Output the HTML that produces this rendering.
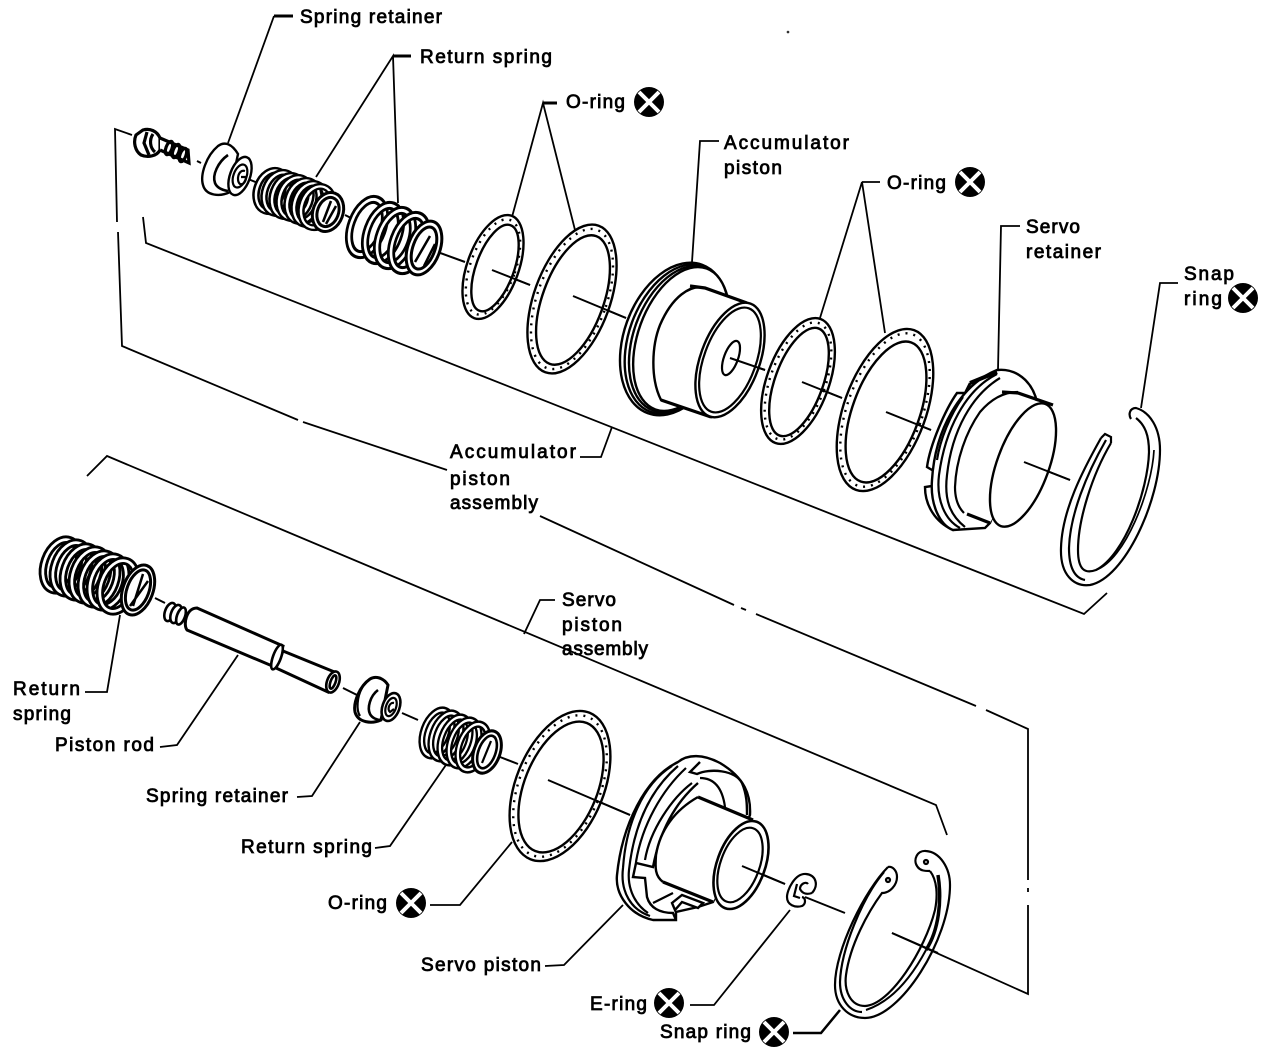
<!DOCTYPE html>
<html><head><meta charset="utf-8"><style>
html,body{margin:0;padding:0;background:#fff}
svg{display:block}
text{font-family:"Liberation Sans",sans-serif;font-size:19px;fill:#000;stroke:#000;stroke-width:.8px}
.l{fill:none;stroke:#000;stroke-width:1.8}
.a{fill:none;stroke:#000;stroke-width:2}
.s{fill:#fff;stroke:#000;stroke-width:2.4}
.n{fill:none;stroke:#000;stroke-width:2.2}
.d{fill:none;stroke:#000;stroke-width:2.4;stroke-dasharray:2 6}
.x{fill:none;stroke:#fff;stroke-width:4}
</style></head><body>
<svg width="1280" height="1050" viewBox="0 0 1280 1050" xmlns="http://www.w3.org/2000/svg">
<defs>
<g id="coil"><ellipse rx="16" ry="25" fill="none" stroke="#000" stroke-width="8"/><ellipse rx="16" ry="25" fill="none" stroke="#fff" stroke-width="2.6"/></g>
<g id="cross"><circle r="15" fill="#000"/><path class="x" d="M-10,-10L10,10M10,-10L-10,10"/></g>
</defs>

<!-- brackets -->
<g class="l">
<path d="M132,135L115,129L117,222M118,232L122,346L298,420M303,422L447,470M540,516L734,605M741,608L746,610M756,614L976,706M986,710L1028,729L1028,880M1028,888L1028,892M1028,905L1028,994L892,933"/>
<path d="M143,217L146,243L1084,614L1107,593"/>
<path d="M87,476L107,456L936,805L947,835"/>
<path d="M228,143L274,16"/><path d="M293,16L274,16" stroke-width="3"/>
<path d="M316,177L393,56L398,203"/><path d="M393,56L411,56" stroke-width="3"/>
<path d="M512,217L543,103L575,230"/><path d="M543,103L557,103" stroke-width="3"/>
<path d="M692,262L700,141L719,141"/>
<path d="M820,318L862,182L885,333M862,182L880,182"/>
<path d="M998,370L1001,226L1020,226"/>
<path d="M1141,408L1160,283L1178,283"/>
<path d="M580,457L601,457L612,427"/>
<path d="M524,634L540,600L555,600"/>
<path d="M85,692L107,692L120,615"/>
<path d="M160,747L177,745L238,655"/>
<path d="M297,797L312,796L360,722"/>
<path d="M375,848L390,846L448,762"/>
<path d="M430,905L460,905L512,842"/>
<path d="M545,966L564,965L623,905"/>
<path d="M690,1005L714,1005L790,910"/>
<path d="M793,1033L821,1033L840,1010" stroke-width="2.5"/>
<circle cx="788" cy="32" r=".4"/>
</g>

<!-- axis behind -->
<g class="a">
<path d="M197,161L201,163M248,179L258,183M345,215L355,220M432,250L465,262M492,270L530,285M573,296L626,318M730,358L765,370M802,382L842,398M886,412L931,430M1024,462L1070,480"/>
<path d="M155,598L165,603M343,688L357,695M402,713L418,720M500,757L518,764M548,780L630,815M742,866L785,884M805,897L845,913"/>
</g>

<!-- bolt -->
<g fill="none" stroke="#000" stroke-width="3.2">
<path d="M143,130C150,128 157,131 160,138L160,150C157,156 148,158 141,155C135,151 133,142 136,135Z" fill="#fff"/>
<path d="M147,132L144,143L149,155M153,134C149,140 150,148 155,152"/>
<path d="M160,138L188,150L189,163L160,150" fill="#fff"/>
<ellipse cx="169" cy="148" rx="3" ry="7" transform="rotate(20 169 148)"/>
<ellipse cx="176" cy="151" rx="3" ry="7" transform="rotate(20 176 151)"/>
<ellipse cx="183" cy="155" rx="3" ry="7" transform="rotate(20 183 155)"/>
</g>

<!-- upper spring retainer -->
<path class="s" d="M238,154C232,144 225,141 218,146C206,156 200,175 203,185C206,196 220,197 230,192Z"/>
<path class="n" d="M228,155C218,162 212,175 215,183C217,188 222,190 228,191" style="stroke-width:2.6"/>
<ellipse class="s" cx="240" cy="176" rx="10" ry="20" transform="rotate(20 240 176)"/>
<ellipse class="n" cx="240" cy="176" rx="6.5" ry="12" transform="rotate(20 240 176)"/>
<path class="n" d="M245,171C238,169 236,181 240,184C243,185 246,182 246,177L241,177"/>

<!-- upper spring 1 -->
<use href="#coil" transform="translate(272,191) rotate(20) scale(.95,.85)"/>
<use href="#coil" transform="translate(280,193) rotate(20) scale(.95,.85)"/>
<use href="#coil" transform="translate(288,196) rotate(20) scale(.95,.85)"/>
<use href="#coil" transform="translate(295,198) rotate(20) scale(.95,.85)"/>
<use href="#coil" transform="translate(303,201) rotate(20) scale(.95,.85)"/>
<use href="#coil" transform="translate(310,204) rotate(20) scale(.95,.85)"/>
<use href="#coil" transform="translate(317,207) rotate(20) scale(.95,.85)"/>
<ellipse class="s" cx="328" cy="212" rx="15" ry="20" transform="rotate(20 328 212)" style="stroke-width:3"/>
<ellipse class="n" cx="328" cy="212" rx="10.5" ry="15" transform="rotate(20 328 212)" style="stroke-width:3"/>
<path class="n" d="M331,201L323,222M336,206L326,224" style="stroke-width:2.5"/>

<!-- upper spring 2 -->
<use href="#coil" transform="translate(367,227) rotate(20) scale(1,1.15)"/>
<use href="#coil" transform="translate(383,233) rotate(20) scale(1,1.15)"/>
<use href="#coil" transform="translate(395,238) rotate(20) scale(1,1.15)"/>
<use href="#coil" transform="translate(409,243) rotate(20) scale(1,1.15)"/>
<ellipse class="s" cx="424" cy="248" rx="16" ry="28" transform="rotate(20 424 248)" style="stroke-width:3"/>
<ellipse class="n" cx="424" cy="248" rx="11" ry="22" transform="rotate(20 424 248)" style="stroke-width:3"/>
<path class="n" d="M430,236L415,262M435,244L424,266" style="stroke-width:2.5"/>

<!-- O-rings upper -->
<ellipse class="s" cx="493" cy="267" rx="25.7" ry="54.5" transform="rotate(20 493 267)"/>
<ellipse class="d" cx="493" cy="267" rx="22.5" ry="50" transform="rotate(20 493 267)"/>
<ellipse class="s" cx="495" cy="268" rx="19" ry="45.5" transform="rotate(20 495 268)"/>
<path class="a" d="M492,270L530,285"/>
<ellipse class="s" cx="572" cy="299" rx="38" ry="78" transform="rotate(20 572 299)"/>
<ellipse class="d" cx="572" cy="299" rx="34.5" ry="73.5" transform="rotate(20 572 299)"/>
<ellipse class="s" cx="573" cy="300" rx="30.5" ry="68" transform="rotate(20 573 300)"/>
<path class="a" d="M573,296L626,318"/>

<!-- accumulator piston -->
<g>
<ellipse class="s" cx="675" cy="339" rx="51" ry="79" transform="rotate(20 675 339)"/>
<ellipse class="s" cx="677" cy="339" rx="48" ry="77.5" transform="rotate(20 677 339)"/>
<ellipse class="s" cx="679" cy="339" rx="45.5" ry="76" transform="rotate(20 679 339)"/>
<ellipse class="s" cx="681" cy="339" rx="43" ry="75" transform="rotate(20 681 339)"/>
<path class="s" d="M747,303L705,288C690,284 672,297 660,325C652,345 650,378 661,400L711,417Z"/>
<path class="a" d="M690,286L705,288L747,303M661,400L711,417" style="stroke-width:3.2"/>
<ellipse class="s" cx="730" cy="360" rx="29.6" ry="60" transform="rotate(20 730 360)"/>
<ellipse class="n" cx="730" cy="360" rx="26" ry="55" transform="rotate(20 730 360)"/>
<ellipse class="n" cx="731" cy="358" rx="7" ry="18" transform="rotate(20 731 358)"/>
<path class="a" d="M730,358L765,370"/>
</g>

<!-- O-rings right -->
<ellipse class="s" cx="798" cy="381" rx="31" ry="66" transform="rotate(20 798 381)"/>
<ellipse class="d" cx="798" cy="381" rx="27.5" ry="61.5" transform="rotate(20 798 381)"/>
<ellipse class="s" cx="799" cy="382" rx="24" ry="57" transform="rotate(20 799 382)"/>
<path class="a" d="M802,382L842,398"/>
<ellipse class="s" cx="885" cy="410" rx="41" ry="85" transform="rotate(20 885 410)"/>
<ellipse class="d" cx="885" cy="410" rx="37.5" ry="80.5" transform="rotate(20 885 410)"/>
<ellipse class="s" cx="886" cy="412" rx="33.5" ry="74" transform="rotate(20 886 412)"/>
<path class="a" d="M886,412L931,430"/>

<!-- servo retainer -->
<g>
<path class="s" d="M970,383L965,393L957,393C945,410 930,445 927,467L932,470L960,440Z"/>
<path class="s" d="M932,486L925,487C925,505 935,522 953,530L965,520Z"/>
<path class="s" d="M997,370C1015,368 1032,380 1037,402L990,523L985,528L953,530C940,525 930,505 932,480C935,430 960,385 997,370Z"/>
<path class="n" d="M997,374C965,390 945,430 939,475C936,500 945,520 960,528"/>
<path class="n" d="M1000,378C972,395 952,430 947,475C944,500 950,515 965,527"/>
<path class="n" d="M970,383L997,372" style="stroke-width:4"/>
<path class="n" d="M963,397C950,415 940,440 937,460"/>
<path d="M1002,393L1053,405L990,523L968,515L962,512C955,505 954,495 955,482C959,440 978,403 1002,393Z" fill="#fff"/>
<path class="n" d="M1018,392C1005,392 992,398 980,412C966,432 956,460 955,487C955,498 958,507 964,513"/>
<path class="a" d="M1002,392L1018,393L1053,405M967,514L990,523" style="stroke-width:3.2"/>
<ellipse class="s" cx="1023" cy="465" rx="26" ry="65" transform="rotate(20 1023 465)"/>
<path class="a" d="M1024,462L1070,480"/>
</g>

<!-- upper snap ring -->
<g class="n">
<path d="M1101,438C1083,470 1062,510 1061,548C1060,575 1074,587 1090,585C1125,578 1160,500 1160,450C1160,428 1150,412 1136,408C1130,408 1128,414 1131,419"/>
<path d="M1111,443C1092,475 1078,520 1078,550C1078,570 1085,574 1096,570C1125,555 1148,490 1149,452C1149,435 1145,425 1136,418"/>
<path d="M1106,440C1086,475 1070,515 1069,548C1069,568 1075,578 1085,580"/>
<path d="M1101,438L1105,434L1111,437L1111,443"/>
<path d="M1096,570C1125,560 1152,490 1154,450" stroke-width="1.7"/>
</g>

<!-- lower spring big -->
<use href="#coil" transform="translate(61,565) rotate(20) scale(1.05,1.05)"/>
<use href="#coil" transform="translate(71,568) rotate(20) scale(1.05,1.05)"/>
<use href="#coil" transform="translate(81,572) rotate(20) scale(1.05,1.05)"/>
<use href="#coil" transform="translate(90,575) rotate(20) scale(1.05,1.05)"/>
<use href="#coil" transform="translate(99,579) rotate(20) scale(1.05,1.05)"/>
<use href="#coil" transform="translate(108,582) rotate(20) scale(1.05,1.05)"/>
<use href="#coil" transform="translate(118,586) rotate(20) scale(1.05,1.05)"/>
<ellipse class="s" cx="138" cy="590" rx="15" ry="26" transform="rotate(20 138 590)" style="stroke-width:3"/>
<ellipse class="n" cx="138" cy="590" rx="11" ry="21" transform="rotate(20 138 590)" style="stroke-width:3"/>
<path class="n" d="M143,574L133,606M148,581L130,606" style="stroke-width:2.5"/>

<!-- piston rod -->
<g fill="none" stroke="#000" stroke-width="2.6">
<ellipse cx="170" cy="612" rx="5" ry="9.5" transform="rotate(20 170 612)" fill="#fff"/>
<ellipse cx="176" cy="614" rx="5" ry="9.5" transform="rotate(20 176 614)" fill="#fff"/>
<ellipse cx="181" cy="616" rx="4" ry="9" transform="rotate(20 181 616)" fill="#fff"/>
<path d="M197,608L283,646L277,668L187,630C183,625 186,608 197,608Z" fill="#fff" stroke-width="3"/>
<path d="M283,651L337,673L328,692L276,668Z" fill="#fff" stroke-width="3"/>
<ellipse cx="277" cy="657" rx="4" ry="13" transform="rotate(20 277 657)" fill="#fff"/>
<ellipse cx="333" cy="682" rx="6" ry="11" transform="rotate(20 333 682)" fill="#fff"/>
<ellipse cx="333" cy="682" rx="2.5" ry="7" transform="rotate(20 333 682)"/>
</g>

<!-- lower retainer -->
<path class="s" d="M388,685C383,677 375,676 370,679C360,686 353,702 355,712C358,723 372,724 381,720Z" style="stroke-width:3"/>
<path class="n" d="M378,690C370,696 367,708 370,714C372,718 377,720 381,720" style="stroke-width:2.6"/>
<path class="n" d="M362,688C357,697 356,710 360,716"/>
<ellipse class="s" cx="391" cy="707" rx="8.5" ry="14.5" transform="rotate(20 391 707)" style="stroke-width:2.6"/>
<ellipse class="n" cx="391" cy="707" rx="5" ry="9.5" transform="rotate(20 391 707)"/>
<path class="n" d="M394,703C389,702 387,710 390,712L394,709"/>

<!-- lower spring small -->
<use href="#coil" transform="translate(437,733) rotate(20) scale(.85,.95)"/>
<use href="#coil" transform="translate(446,736) rotate(20) scale(.85,.95)"/>
<use href="#coil" transform="translate(455,740) rotate(20) scale(.85,.95)"/>
<use href="#coil" transform="translate(464,743) rotate(20) scale(.85,.95)"/>
<use href="#coil" transform="translate(473,747) rotate(20) scale(.85,.95)"/>
<ellipse class="s" cx="487" cy="752" rx="13" ry="22" transform="rotate(20 487 752)" style="stroke-width:3"/>
<ellipse class="n" cx="487" cy="752" rx="8.5" ry="17" transform="rotate(20 487 752)" style="stroke-width:2.6"/>
<path class="n" d="M491,741L482,763"/>

<!-- lower O-ring -->
<ellipse class="s" cx="560" cy="786" rx="44" ry="79" transform="rotate(22 560 786)"/>
<ellipse class="d" cx="560" cy="786" rx="40.5" ry="74.5" transform="rotate(22 560 786)"/>
<ellipse class="s" cx="561" cy="787" rx="36.5" ry="69" transform="rotate(22 561 787)"/>
<path class="a" d="M548,780L630,815"/>

<!-- servo piston -->
<g>
<path class="s" d="M750,815C751,795 745,778 720,763C703,754 688,754 678,762C645,778 622,825 617,875C615,895 630,915 653,920L676,920L676,912L698,907L713,902Z"/>
<path class="n" d="M672,766C642,785 626,825 623,868C620,893 632,910 650,916"/>
<path class="n" d="M678,766C650,790 634,825 629,870C627,890 636,905 648,913"/>
<path class="n" d="M686,768C662,790 642,825 636,862"/>
<path class="n" d="M692,783C672,798 650,830 645,860"/>
<path class="n" d="M700,762L690,772L697,774C710,768 735,770 742,783C747,795 747,805 747,815" style="stroke-width:2.4"/>
<path class="n" d="M700,778C712,778 722,785 725,807"/>
<path class="n" d="M698,783C675,803 660,830 653,867L636,863L633,877L645,878L647,897C650,908 660,913 673,913L676,920" style="stroke-width:2.4"/>
<path class="n" d="M653,903L673,893"/>
<path d="M698,797L753,820L713,902L663,882C655,876 655,868 656,855C660,830 675,810 698,797Z" fill="#fff"/>
<path class="n" d="M698,797C675,810 660,830 656,855C655,868 655,876 663,882" style="stroke-width:2.4"/>
<path class="a" d="M698,797L753,820M663,882L713,902" style="stroke-width:3.2"/>
<path class="s" d="M682,895L703,903L698,908L682,902L675,910L672,903Z"/>
<ellipse class="s" cx="741" cy="865" rx="24" ry="46" transform="rotate(20 741 865)" style="stroke-width:2.6"/>
<ellipse class="n" cx="740" cy="865" rx="19.5" ry="39" transform="rotate(20 740 865)"/>
<path class="a" d="M742,866L785,884"/>
</g>

<!-- E-ring -->
<g class="n" stroke-width="2.6">
<path d="M812,893C819,885 816,875 806,874C795,873 787,890 787,897C787,905 795,908 802,906C806,904 806,898 802,897"/>
<path d="M812,893C806,895 802,893 800,889C800,884 806,881 808,884"/>
<path d="M797,884L794,896L800,898"/>
</g>

<!-- lower snap ring -->
<g class="n">
<path d="M888,867C865,890 835,950 835,985C835,1005 848,1018 865,1018C900,1018 950,940 950,885C950,868 940,852 926,851C917,850 913,860 917,866C920,871 925,871 930,871"/>
<path d="M930,871C937,880 938,895 935,910C925,950 890,1005 865,1006C850,1006 844,990 846,975C850,945 868,912 882,893C890,893 897,885 897,877C897,870 892,866 888,867"/>
<path d="M884,872C862,898 841,950 840,982C840,1000 850,1012 862,1012"/>
<path d="M938,875C942,900 939,930 926,950" stroke-width="3.5"/>
<path d="M926,950C910,980 890,1002 866,1010" stroke-width="2"/>
<circle cx="888" cy="880" r="2"/><circle cx="926" cy="862" r="2"/>
</g>
<path class="a" d="M892,933L938,953"/>

<!-- crosses -->
<use href="#cross" x="649" y="102"/>
<use href="#cross" x="970" y="182"/>
<use href="#cross" x="1243" y="298"/>
<use href="#cross" x="411" y="903"/>
<use href="#cross" x="669" y="1003"/>
<use href="#cross" x="774" y="1032"/>

<!-- labels -->
<text x="300" y="23" textLength="142">Spring retainer</text>
<text x="420" y="63" textLength="132">Return spring</text>
<text x="566" y="108" textLength="59">O-ring</text>
<text x="724" y="149" textLength="125">Accumulator</text>
<text x="724" y="174" textLength="58">piston</text>
<text x="887" y="189" textLength="59">O-ring</text>
<text x="1026" y="233" textLength="54">Servo</text>
<text x="1026" y="258" textLength="75">retainer</text>
<text x="1184" y="280" textLength="50">Snap</text>
<text x="1184" y="305" textLength="38">ring</text>
<text x="450" y="458" textLength="126">Accumulator</text>
<text x="450" y="485" textLength="60">piston</text>
<text x="450" y="509" textLength="88">assembly</text>
<text x="562" y="606" textLength="54">Servo</text>
<text x="562" y="631" textLength="60">piston</text>
<text x="562" y="655" textLength="86">assembly</text>
<text x="13" y="695" textLength="67">Return</text>
<text x="13" y="720" textLength="58">spring</text>
<text x="55" y="751" textLength="99">Piston rod</text>
<text x="146" y="802" textLength="142">Spring retainer</text>
<text x="241" y="853" textLength="131">Return spring</text>
<text x="328" y="909" textLength="59">O-ring</text>
<text x="421" y="971" textLength="120">Servo piston</text>
<text x="590" y="1010" textLength="57">E-ring</text>
<text x="660" y="1038" textLength="91">Snap ring</text>
</svg>
</body></html>
